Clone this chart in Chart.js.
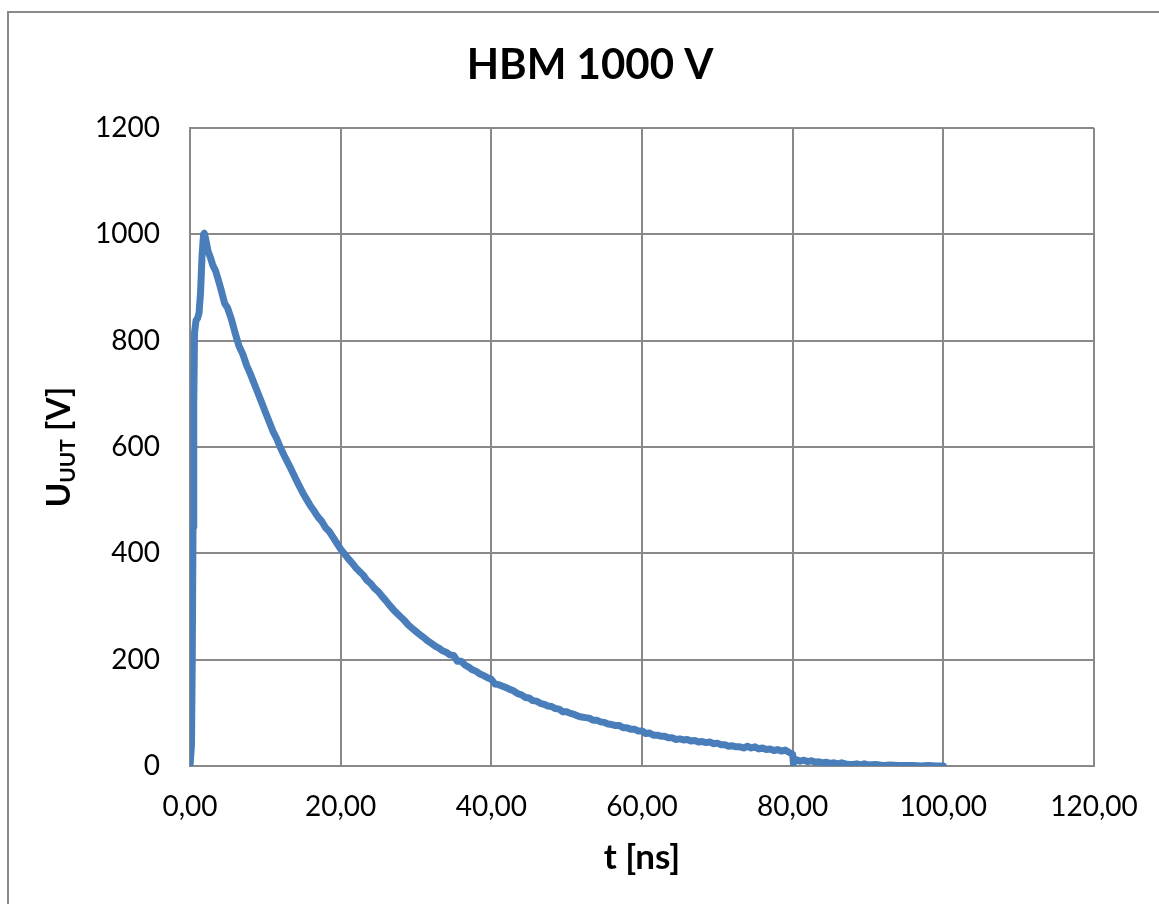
<!DOCTYPE html>
<html>
<head>
<meta charset="utf-8">
<script src="https://cdn.jsdelivr.net/npm/chart.js@4/dist/chart.umd.min.js"></script>
<style>
  html, body { margin: 0; padding: 0; background: #fff; overflow: hidden; }
  #frame { position: absolute; left: 7px; top: 11px; width: 1300px; height: 1000px;
           border-left: 2px solid #8a8a8a; border-top: 2px solid #8a8a8a; }
  #wrap { position: absolute; left: 0; top: 0; width: 1159px; height: 904px; }
</style>
</head>
<body>
<div id="frame"></div>
<div id="wrap"><canvas id="c" width="1159" height="904"></canvas></div>
<script>
// HBM discharge waveform, 1000 V: time in ns, voltage at the unit under test in V
const tNs = [
  0, 0.1, 0.2, 0.3, 0.4, 0.5, 0.6, 0.8, 1.0, 1.2, 1.4, 1.6, 1.8, 1.9, 2.1, 2.4, 2.7, 3.0, 3.4, 3.8,
  4.2, 4.6, 5.0, 5.5, 6.0, 6.5, 7.0, 7.5,
  8.0, 8.5, 9.0, 9.5, 10.0, 10.5, 11.0, 11.5, 12.0, 12.5, 13.0, 13.5, 14.0, 14.5, 15.0, 15.5,
  16.0, 16.5, 17.0, 17.5, 18.0, 18.5, 19.0, 19.5, 20.0, 20.5, 21.0, 21.5, 22.0, 22.5, 23.0, 23.5,
  24.0, 24.5, 25.0, 25.5, 26.0, 26.5, 27.0, 27.5, 28.0, 28.5, 29.0, 29.5, 30.0, 30.5, 31.0, 31.5,
  32.0, 32.5, 33.0, 33.5, 34.0, 34.5, 35.0, 35.5, 36.0, 36.5, 37.0, 37.5, 38.0, 38.5, 39.0, 39.5,
  40.0, 40.5, 41.0, 41.5, 42.0, 42.5, 43.0, 43.5, 44.0, 44.5, 45.0, 45.5, 46.0, 46.5, 47.0, 47.5,
  48.0, 48.5, 49.0, 49.5, 50.0, 50.5, 51.0, 51.5, 52.0, 52.5, 53.0, 53.5, 54.0, 54.5, 55.0, 55.5,
  56.0, 56.5, 57.0, 57.5, 58.0, 58.5, 59.0, 59.5, 60.0, 60.5, 61.0, 61.5, 62.0, 62.5, 63.0, 63.5,
  64.0, 64.5, 65.0, 65.5, 66.0, 66.5, 67.0, 67.5, 68.0, 68.5, 69.0, 69.5, 70.0, 70.5, 71.0, 71.5,
  72.0, 72.5, 73.0, 73.5, 74.0, 74.5, 75.0, 75.5, 76.0, 76.5, 77.0, 77.5, 78.0, 78.5, 79.0, 79.5,
  80.0, 80.1, 80.5, 81.0, 81.5, 82.0, 82.5, 83.0, 83.5, 84.0, 84.5, 85.0, 85.5, 86.0, 86.5, 87.0,
  87.5, 88.0, 88.5, 89.0, 89.5, 90.0, 91.0, 92.0, 93.0, 94.0, 95.0, 96.0, 97.0, 98.0, 99.0, 100.0
];
const uUutV = [
  0, 0, 40, 200, 450, 680, 815, 838, 842, 852, 890, 960, 1000, 1002, 990, 968, 957, 943, 931, 912,
  892, 870, 861, 840, 814, 790, 775, 754,
  738, 720, 702, 684, 666, 648, 630, 616, 599, 584, 570, 556, 541, 527, 513, 501,
  489, 479, 468, 460, 448, 441, 430, 419, 408, 399, 390, 382, 373, 366, 359, 349,
  343, 334, 328, 319, 311, 302, 294, 287, 280, 273, 265, 259, 253, 247, 242, 236,
  231, 226, 222, 217, 214, 209, 208, 197, 197, 190, 186, 181, 178, 173, 170, 166,
  163, 154, 153, 150, 147, 144, 141, 136, 134, 129, 128, 123, 122, 118, 116, 113,
  112, 108, 107, 102, 102, 99, 97, 94, 92, 91, 90, 86, 86, 83, 82, 79,
  78, 76, 76, 72, 72, 69, 69, 66, 66, 61, 62, 58, 58, 56, 56, 53,
  53, 50, 51, 49, 50, 47, 48, 45, 46, 44, 45, 42, 43, 40, 40, 37,
  38, 36, 36, 34, 37, 34, 36, 32, 34, 31, 32, 29, 31, 28, 30, 26,
  22, 5, 12, 9, 11, 8, 10, 7, 8, 6, 7, 5, 6, 4, 6, 4,
  3, 3, 4, 2, 4, 2, 3, 1, 2, 1, 1, 1, 0, 1, 0, 0
];

// Axis tick labels and titles
const xTickLabels = ['0,00', '20,00', '40,00', '60,00', '80,00', '100,00', '120,00'];
const yTickLabels = ['0', '200', '400', '600', '800', '1000', '1200'];
const chartTitle = 'HBM 1000 V';
const xTitle = 't [ns]';
const yTitleMain = 'U';
const yTitleSub = 'UUT';
const yTitleUnit = ' [V]';

const points = tNs.map((t, i) => ({ x: t, y: uUutV[i] }));

const FONT = 'Lato, "Open Sans", "DejaVu Sans", sans-serif';
const GRID = '#898989';

// Rotated y-axis title with a subscript
const yTitlePlugin = {
  id: 'yTitleSub',
  afterDraw(chart) {
    const { ctx, chartArea } = chart;
    const cy = (chartArea.top + chartArea.bottom) / 2;
    const big = 'bold 33px ' + FONT;
    const small = 'bold 21px ' + FONT;
    ctx.save();
    ctx.font = big;
    const w1 = ctx.measureText(yTitleMain).width;
    const w3 = ctx.measureText(yTitleUnit).width;
    ctx.font = small;
    const w2 = ctx.measureText(yTitleSub).width;
    const total = w1 + w2 + w3;
    ctx.translate(70, cy);
    ctx.rotate(-Math.PI / 2);
    ctx.fillStyle = '#000';
    ctx.textBaseline = 'alphabetic';
    ctx.textAlign = 'left';
    let x = -total / 2;
    ctx.font = big;  ctx.fillText(yTitleMain, x, 0); x += w1;
    ctx.font = small; ctx.fillText(yTitleSub, x, 5); x += w2;
    ctx.font = big;  ctx.fillText(yTitleUnit, x, 0);
    ctx.restore();
  }
};

new Chart(document.getElementById('c'), {
  type: 'scatter',
  data: {
    datasets: [{
      data: points,
      showLine: true,
      borderColor: '#4a7ebb',
      backgroundColor: '#4a7ebb',
      borderWidth: 7,
      borderJoinStyle: 'round',
      borderCapStyle: 'round',
      pointRadius: 0,
      tension: 0
    }]
  },
  options: {
    responsive: false,
    animation: false,
    layout: { padding: { left: 86, right: 65, top: 0, bottom: 0 } },
    plugins: {
      legend: { display: false },
      tooltip: { enabled: false },
      title: {
        display: true,
        text: chartTitle,
        color: '#000',
        font: { family: FONT, size: 42, weight: 'bold', lineHeight: 1.2 },
        padding: { top: 40, bottom: 37.6 }
      }
    },
    scales: {
      x: {
        type: 'linear',
        min: 0, max: 120,
        ticks: {
          stepSize: 20,
          color: '#000',
          padding: 24,
          maxRotation: 0,
          font: { family: FONT, size: 28 },
          callback: (v) => xTickLabels[Math.round(v / 20)]
        },
        grid: { color: GRID, lineWidth: 2, drawTicks: false },
        border: { color: GRID, width: 2 },
        title: {
          display: true,
          text: xTitle,
          color: '#000',
          font: { family: FONT, size: 35, weight: 'bold', lineHeight: 1.2 },
          padding: { top: 0, bottom: 25 }
        },
        afterFit(s) { s.height = 138; s.paddingLeft = 0; s.paddingRight = 0; }
      },
      y: {
        type: 'linear',
        min: 0, max: 1200,
        ticks: {
          stepSize: 200,
          color: '#000',
          padding: 30,
          font: { family: FONT, size: 28 },
          callback: (v) => yTickLabels[Math.round(v / 200)]
        },
        grid: { color: GRID, lineWidth: 2, drawTicks: false },
        border: { color: GRID, width: 2 },
        afterFit(s) { s.width = 104; s.paddingTop = 0; s.paddingBottom = 0; }
      }
    }
  },
  plugins: [yTitlePlugin]
});
</script>
</body>
</html>
